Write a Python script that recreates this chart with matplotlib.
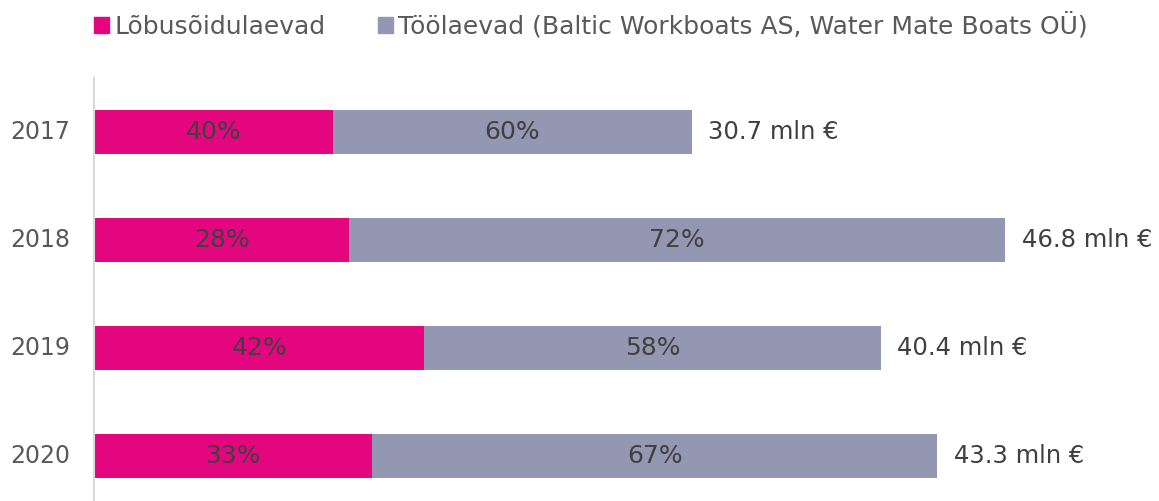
import matplotlib.pyplot as plt
from matplotlib.patches import Patch

years = ["2017", "2018", "2019", "2020"]
totals = [30.7, 46.8, 40.4, 43.3]
share_leisure = [40, 28, 42, 33]
share_work = [60, 72, 58, 67]
series_names = ["Lõbusõidulaevad", "Töölaevad (Baltic Workboats AS, Water Mate Boats OÜ)"]

PINK = "#E4067F"
GREY = "#9497B2"
TEXT_DARK = "#404040"
TEXT_GREY = "#595959"

plt.rcParams["font.family"] = ["DejaVu Sans"]

fig = plt.figure(figsize=(11.59, 5.01), dpi=100)
ax = fig.add_axes([94 / 1159, 1 - 510 / 501, 973.5 / 1159, 432 / 501])

pos = list(range(len(years)))
leisure = [t * p / 100 for t, p in zip(totals, share_leisure)]
work = [t - l for t, l in zip(totals, leisure)]

ax.barh(pos, leisure, height=0.4, color=PINK)
ax.barh(pos, work, left=leisure, height=0.4, color=GREY)

for i in pos:
    ax.text(leisure[i] / 2, i, f"{share_leisure[i]}%", ha="center", va="center",
            fontsize=18, color=TEXT_DARK)
    ax.text(leisure[i] + work[i] / 2, i, f"{share_work[i]}%", ha="center", va="center",
            fontsize=18, color=TEXT_DARK)
    ax.annotate(f"{totals[i]} mln €", (totals[i], i), xytext=(12, 0),
                textcoords="offset points", ha="left", va="center",
                fontsize=17.5, color=TEXT_DARK)

ax.set_xlim(0, 50)
ax.set_ylim(len(years) - 0.5, -0.5)
ax.set_yticks(pos)
ax.set_yticklabels(years, fontsize=17, color=TEXT_GREY, va="center")
ax.tick_params(axis="y", length=0, pad=17)
ax.set_xticks([])
for side in ["top", "right", "bottom"]:
    ax.spines[side].set_visible(False)
ax.spines["left"].set_color("#D9D9D9")
ax.spines["left"].set_linewidth(1.5)

handles = [Patch(color=PINK), Patch(color=GREY)]
fig.legend(handles, series_names, loc="center", bbox_to_anchor=(0.51, 1 - 26 / 501),
           ncol=2, frameon=False, fontsize=18, labelcolor=TEXT_GREY,
           handlelength=0.6, handleheight=0.6, handletextpad=0.2, columnspacing=2.1)

fig.savefig("out.png", dpi=100)
